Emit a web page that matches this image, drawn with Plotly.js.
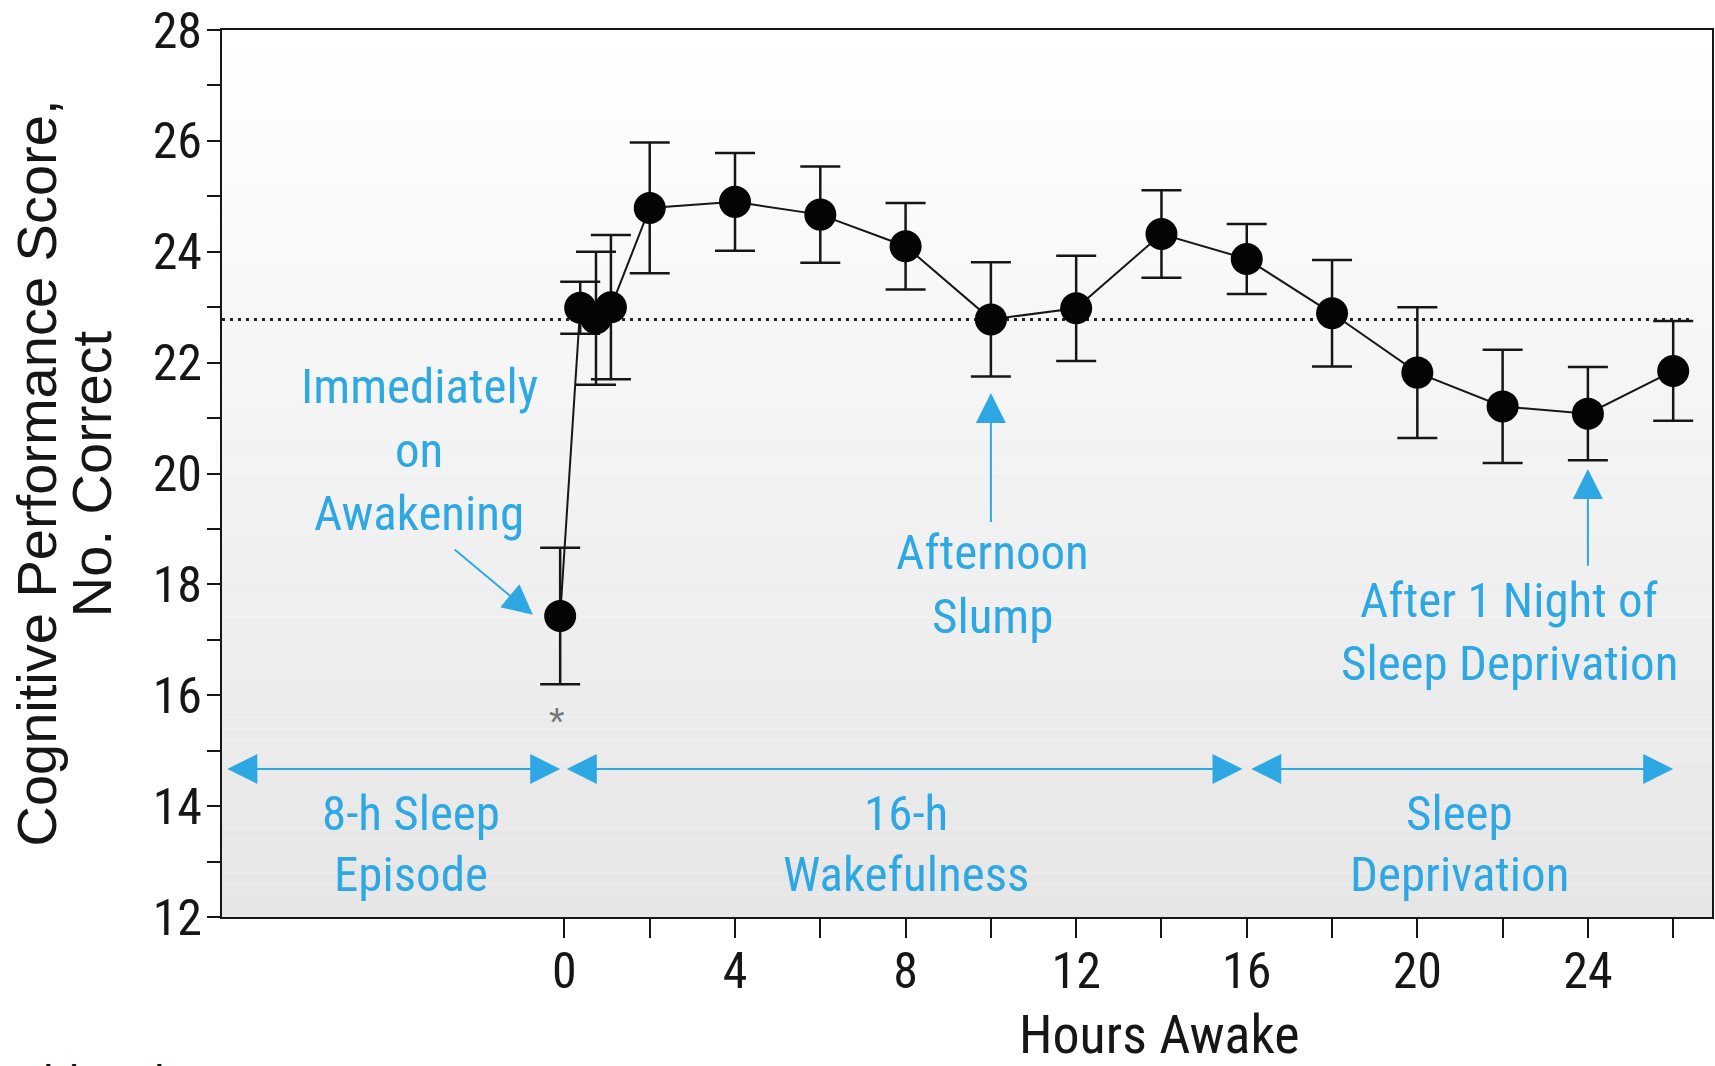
<!DOCTYPE html>
<html><head><meta charset="utf-8">
<script src="https://cdn.plot.ly/plotly-3.0.1.min.js"></script>
<style>html,body{margin:0;padding:0;background:#fff;} #chart{width:1715px;height:1066px;}</style>
</head><body><div id="chart"></div>
<script>
// ---- data ----
const hoursAwake = [-0.1, 0.37, 0.74, 1.09, 2, 4, 6, 8, 10, 12, 14, 16, 18, 20, 22, 24, 26];
const scores     = [17.43, 22.99, 22.8, 23.0, 24.79, 24.9, 24.67, 24.1, 22.78, 22.98, 24.32, 23.87, 22.89, 21.82, 21.21, 21.08, 21.85];
const scoreErr   = [1.23, 0.47, 1.2, 1.3, 1.18, 0.88, 0.87, 0.78, 1.03, 0.95, 0.79, 0.63, 0.96, 1.18, 1.02, 0.84, 0.9];

const baselineScore = 22.78;
const baselineHours = [-8.03, 26.45];

const xTickVals = [0, 2, 4, 6, 8, 10, 12, 14, 16, 18, 20, 22, 24, 26];
const xTickText = ['0', '', '4', '', '8', '', '12', '', '16', '', '20', '', '24', ''];
const yTickVals = [12, 14, 16, 18, 20, 22, 24, 26, 28];
const yTickText = ['12', '14', '16', '18', '20', '22', '24', '26', '28'];

const phaseLabels = ['8-h Sleep<br>Episode', '16-h<br>Wakefulness', 'Sleep<br>Deprivation'];
const phaseStart  = [-7.94, 0.02, 16.07];
const phaseEnd    = [-0.1, 15.9, 26.0];
const phaseLabelX = [-3.6, 8.0, 21.0];
const phaseArrowY = 14.67;
const phaseLabelY = 13.32;

const calloutText  = ['Immediately<br>on<br>Awakening', 'Afternoon<br>Slump', 'After 1 Night of<br>Sleep Deprivation'];
const calloutX     = [-3.41, 10.03, 22.16];
const calloutY     = [20.42, 18.0, 17.14];
const calloutHeadX = [-0.74, 10, 24];
const calloutHeadY = [17.45, 21.45, 20.08];
const calloutTailX = [-2.61, 10, 24];
const calloutTailY = [18.65, 19.10, 18.31];

const sigMark = {text: '*', x: -0.17, y: 15.52};
const yTitleLines = ['Cognitive Performance Score,', 'No. Correct'];
const xTitle = 'Hours Awake';
const sourceNote = 'Wright et al, JAMA, 2006';

// ---- styling ----
const BLUE = '#2ea8e3';
const INK = '#161616';
const NARROW = 'Roboto Condensed, Liberation Sans Narrow, Roboto, sans-serif';
const REGULAR = 'Liberation Sans, Arial, Helvetica, sans-serif';
const LABEL_SIZE = 49;

const traces = [
  {
    x: baselineHours, y: [baselineScore, baselineScore],
    mode: 'lines', hoverinfo: 'skip', showlegend: false,
    line: {color: '#222', width: 3, dash: '3px,5px'}
  },
  {
    x: hoursAwake, y: scores,
    mode: 'lines+markers', showlegend: false,
    line: {color: INK, width: 2},
    marker: {size: 32, color: '#050505'},
    error_y: {type: 'data', array: scoreErr, visible: true, color: INK, thickness: 2.5, width: 20}
  }
];

// gradient plot background (white top -> light grey bottom)
const shapes = [];
const N = 80;
for (let i = 0; i < N; i++) {
  const t = (i + 0.5) / N; // 0 bottom .. 1 top
  const c = Math.round(230 + 25 * t);
  shapes.push({
    type: 'rect', xref: 'x domain', yref: 'y domain', layer: 'below',
    x0: 0, x1: 1, y0: i / N, y1: (i + 1) / N,
    fillcolor: `rgb(${c},${c},${c})`, line: {width: 0}
  });
}

const annotations = [];
function addBlock(text, x, yCenter, spacing) {
  const lines = text.split('<br>');
  const n = lines.length;
  lines.forEach((ln, k) => {
    annotations.push({
      x: x, y: yCenter + ((n - 1) / 2 - k) * spacing, text: ln, showarrow: false,
      xanchor: 'center', yanchor: 'middle',
      font: {family: NARROW, size: LABEL_SIZE, color: BLUE}
    });
  });
}

// y-axis title (two lines, tight spacing)
annotations.push({xref: 'paper', yref: 'paper', x: -0.1248, y: 0.5, xanchor: 'center', yanchor: 'middle',
  text: yTitleLines[0], textangle: -90, showarrow: false, font: {family: REGULAR, size: 56, color: INK}});
annotations.push({xref: 'paper', yref: 'paper', x: -0.0875, y: 0.5, xanchor: 'center', yanchor: 'middle',
  text: yTitleLines[1], textangle: -90, showarrow: false, font: {family: REGULAR, size: 56, color: INK}});
// x-axis title
annotations.push({xref: 'paper', yref: 'paper', x: 0.6295, y: -0.1325, xanchor: 'center', yanchor: 'middle',
  text: xTitle, showarrow: false, font: {family: NARROW, size: 54, color: INK}});
// source note (cropped at bottom edge, as in the reference)
annotations.push({xref: 'paper', yref: 'paper', x: -0.1456, y: -0.1601, xanchor: 'left', yanchor: 'top', borderpad: 0,
  text: '<b>' + sourceNote + '</b>', showarrow: false, font: {family: REGULAR, size: 29, color: '#111'}});
// asterisk
annotations.push({x: sigMark.x, y: sigMark.y, text: sigMark.text, showarrow: false,
  font: {family: REGULAR, size: 40, color: '#777'}});

// phase arrows + labels
for (let i = 0; i < phaseLabels.length; i++) {
  annotations.push({
    x: phaseEnd[i], y: phaseArrowY, ax: phaseStart[i], ay: phaseArrowY, axref: 'x', ayref: 'y',
    text: '', showarrow: true, arrowside: 'end+start', arrowhead: 2, startarrowhead: 2,
    arrowsize: 3, startarrowsize: 3, arrowwidth: 2, arrowcolor: BLUE, standoff: 0, startstandoff: 0
  });
  addBlock(phaseLabels[i], phaseLabelX[i], phaseLabelY, 1.11);
}
// callouts
for (let i = 0; i < calloutText.length; i++) {
  addBlock(calloutText[i], calloutX[i], calloutY[i], 1.15);
  annotations.push({
    x: calloutHeadX[i], y: calloutHeadY[i], ax: calloutTailX[i], ay: calloutTailY[i], axref: 'x', ayref: 'y',
    text: '', showarrow: true, arrowhead: 2, arrowsize: 3, arrowwidth: 2, arrowcolor: BLUE, standoff: 0
  });
}

const layout = {
  width: 1715, height: 1066,
  margin: {l: 222, r: 3, t: 30, b: 149, pad: 0},
  paper_bgcolor: '#ffffff', plot_bgcolor: '#ffffff',
  showlegend: false,
  xaxis: {
    range: [-8.03, 26.91], tickmode: 'array', tickvals: xTickVals, ticktext: xTickText,
    ticks: 'outside', ticklen: 19, tickwidth: 2, tickcolor: INK, ticklabelstandoff: -10,
    showline: true, mirror: true, linecolor: INK, linewidth: 2,
    showgrid: false, zeroline: false,
    tickfont: {family: NARROW, size: 50, color: INK}
  },
  yaxis: {
    range: [12, 28], tickmode: 'array', tickvals: yTickVals, ticktext: yTickText,
    ticks: 'outside', ticklen: 13, tickwidth: 2, tickcolor: INK, ticklabelstandoff: -5,
    minor: {dtick: 1, tick0: 12, ticks: 'outside', ticklen: 13, tickwidth: 2, tickcolor: INK, showgrid: false},
    showline: true, mirror: true, linecolor: INK, linewidth: 2,
    showgrid: false, zeroline: false,
    tickfont: {family: NARROW, size: 50, color: INK}
  },
  shapes: shapes,
  annotations: annotations
};

Plotly.newPlot('chart', traces, layout, {staticPlot: true, displayModeBar: false});
</script>
</body></html>
